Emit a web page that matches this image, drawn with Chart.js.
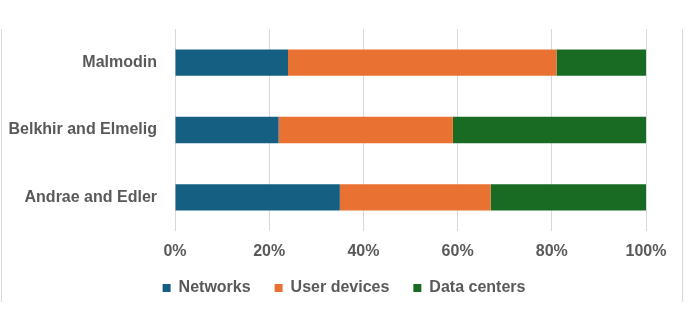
<!DOCTYPE html>
<html>
<head>
<meta charset="utf-8">
<script src="https://cdn.jsdelivr.net/npm/chart.js@4/dist/chart.umd.min.js"></script>
<style>
  html, body { margin: 0; padding: 0; background: #ffffff; }
  #wrap { width: 697px; height: 327px; position: relative; }
</style>
</head>
<body>
<div id="wrap"><canvas id="chart"></canvas></div>
<script>
// Studies compared (top to bottom)
const categories = ['Malmodin', 'Belkhir and Elmelig', 'Andrae and Edler'];

// Share of total footprint, in percent
const networks    = [24, 22, 35];
const userDevices = [57, 37, 32];
const dataCenters = [19, 41, 33];

const xTicks = [0, 20, 40, 60, 80, 100];

const TEXT = '#595959';
const FONT = '"Liberation Sans", Arial, sans-serif';

// Thin vertical frame lines on both sides of the figure
const sideFrame = {
  id: 'sideFrame',
  beforeDraw(chart) {
    const ctx = chart.ctx;
    ctx.save();
    ctx.strokeStyle = '#d9d9d9';
    ctx.lineWidth = 1;
    ctx.beginPath();
    ctx.moveTo(1.5, 29);
    ctx.lineTo(1.5, 302);
    ctx.moveTo(682.5, 29);
    ctx.lineTo(682.5, 302);
    ctx.stroke();
    ctx.restore();
  }
};

// Nudge the legend so it sits centred under the plot
const legendPlacement = {
  id: 'legendPlacement',
  afterLayout(chart) {
    const lg = chart.legend;
    if (!lg) return;
    const dx = 21;
    const dy = 256 - lg.top;
    lg.left += dx; lg.right += dx;
    lg.top += dy; lg.bottom += dy;
  }
};

new Chart(document.getElementById('chart'), {
  type: 'bar',
  data: {
    labels: categories,
    datasets: [
      { label: 'Networks', data: networks, backgroundColor: '#156082' },
      { label: 'User devices', data: userDevices, backgroundColor: '#e97132' },
      { label: 'Data centers', data: dataCenters, backgroundColor: '#196b24' }
    ]
  },
  options: {
    indexAxis: 'y',
    responsive: true,
    maintainAspectRatio: false,
    animation: false,
    datasets: { bar: { barPercentage: 0.39, categoryPercentage: 1 } },
    layout: { padding: { left: 0, right: 51, top: 29, bottom: 16 } },
    scales: {
      x: {
        stacked: true,
        min: 0,
        max: 100,
        afterBuildTicks(axis) { axis.ticks = xTicks.map(v => ({ value: v })); },
        afterFit(axis) { axis.height = 30; },
        grid: { color: '#d9d9d9', lineWidth: 1, drawTicks: false },
        border: { display: false },
        ticks: {
          color: TEXT,
          font: { family: FONT, size: 16, weight: 'bold' },
          padding: 11,
          callback: v => v + '%'
        }
      },
      y: {
        stacked: true,
        grid: { display: false, drawTicks: false },
        border: { display: false },
        afterFit(axis) { axis.width = 175; },
        ticks: {
          color: TEXT,
          font: { family: FONT, size: 16, weight: 'bold' },
          padding: 18
        }
      }
    },
    plugins: {
      legend: {
        position: 'bottom',
        labels: {
          color: TEXT,
          font: { family: FONT, size: 16, weight: 'bold' },
          boxWidth: 8,
          boxHeight: 8,
          padding: 24
        }
      },
      tooltip: { enabled: false }
    }
  },
  plugins: [sideFrame, legendPlacement]
});
</script>
</body>
</html>
